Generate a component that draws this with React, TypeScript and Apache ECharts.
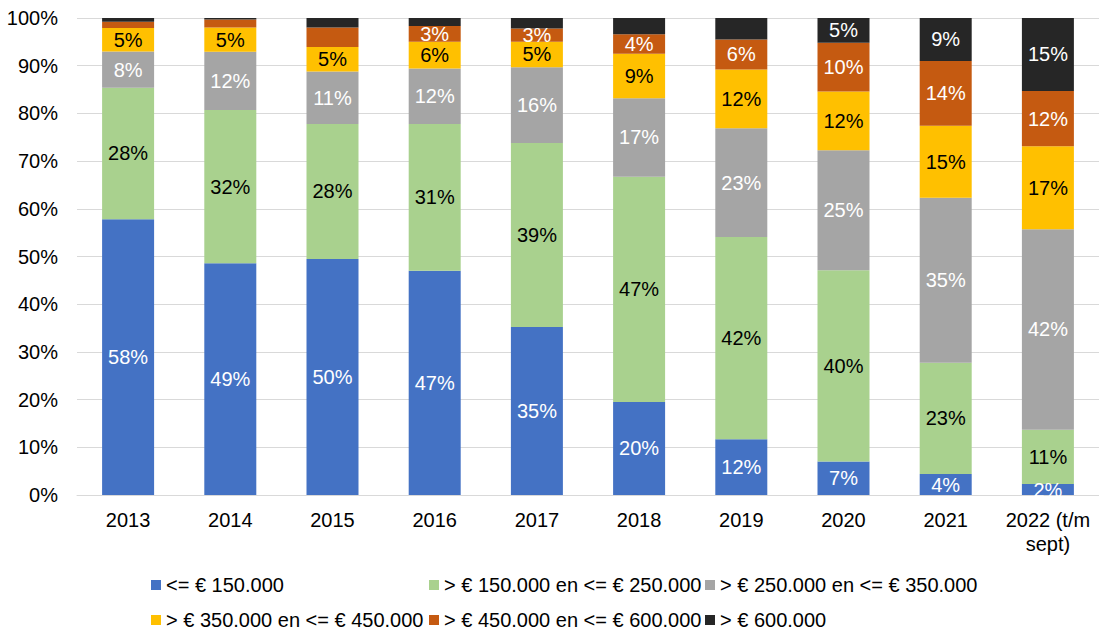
import React, { useEffect, useRef } from "react";
import * as echarts from "echarts";

const categories = ["2013", "2014", "2015", "2016", "2017", "2018", "2019", "2020", "2021", "2022 (t/m\nsept)"];

const seriesNames = [
  "<= € 150.000",
  "> € 150.000 en <= € 250.000",
  "> € 250.000 en <= € 350.000",
  "> € 350.000 en <= € 450.000",
  "> € 450.000 en <= € 600.000",
  "> € 600.000",
];

const upTo150 = [57.8, 48.6, 49.5, 47.0, 35.2, 19.5, 11.7, 7.0, 4.4, 2.3];
const from150to250 = [27.6, 32.1, 28.3, 30.8, 38.6, 47.2, 42.4, 40.1, 23.3, 11.4];
const from250to350 = [7.6, 12.2, 11.0, 11.6, 15.9, 16.5, 22.8, 25.2, 34.6, 42.0];
const from350to450 = [4.9, 5.1, 5.1, 5.6, 5.3, 9.3, 12.3, 12.3, 15.1, 17.4];
const from450to600 = [1.3, 1.7, 4.1, 3.3, 2.8, 4.1, 6.3, 10.2, 13.6, 11.6];
const above600 = [0.8, 0.3, 2.0, 1.7, 2.2, 3.4, 4.5, 5.2, 9.0, 15.3];

const yTicks = { min: 0, max: 100, interval: 10 };

// category indexes whose segment carries no data label in the reference
const unlabeledOrange = [0, 1, 2];
const unlabeledBlack = [0, 1, 2, 3, 4, 5, 6];

const colors = ["#4472C4", "#A9D18E", "#A5A5A5", "#FFC000", "#C55A11", "#262626"];
const labelColors = ["#ffffff", "#000000", "#ffffff", "#000000", "#ffffff", "#ffffff"];

const FONT = "'Liberation Sans', Arial, sans-serif";

export default function App() {
  const ref = useRef<HTMLDivElement>(null);

  useEffect(() => {
    document.body.style.margin = "0";
    const chart = echarts.init(ref.current!, null, { renderer: "svg" });
    const values = [upTo150, from150to250, from250to350, from350to450, from450to600, above600];
    const hidden: number[][] = [[], [], [], [], unlabeledOrange, unlabeledBlack];

    const series = values.map((vals, si) => ({
      name: seriesNames[si],
      type: "bar",
      stack: "total",
      barWidth: 52,
      itemStyle: { color: colors[si] },
      label: {
        show: true,
        position: "inside",
        color: labelColors[si],
        fontFamily: FONT,
        fontSize: 20,
        formatter: (p: any) => Math.round(p.value) + "%",
      },
      emphasis: { disabled: true },
      data: vals.map((v, i) =>
        hidden[si].includes(i) ? { value: v, label: { show: false } } : v
      ),
    }));

    const legendBase = {
      orient: "vertical",
      top: 575,
      itemWidth: 10,
      itemHeight: 10,
      itemGap: 15,
      padding: 0,
      icon: "rect",
      selectedMode: false,
      textStyle: { fontFamily: FONT, fontSize: 20, color: "#000", lineHeight: 20 },
    };

    chart.setOption({
      animation: false,
      color: colors,
      textStyle: { fontFamily: FONT },
      grid: { left: 77, right: -6, top: 18, bottom: 135, containLabel: false },
      xAxis: {
        type: "category",
        data: categories,
        axisLine: { show: true, lineStyle: { color: "#D9D9D9" } },
        axisTick: { show: false },
        axisLabel: {
          color: "#000",
          fontFamily: FONT,
          fontSize: 20,
          margin: 13,
          lineHeight: 24,
          interval: 0,
        },
      },
      yAxis: {
        type: "value",
        min: yTicks.min,
        max: yTicks.max,
        interval: yTicks.interval,
        axisLine: { show: false },
        axisTick: { show: false },
        splitLine: { lineStyle: { color: "#D9D9D9", width: 1 } },
        axisLabel: {
          formatter: "{value}%",
          color: "#000",
          fontFamily: FONT,
          fontSize: 20,
          margin: 19,
        },
      },
      legend: [
        { ...legendBase, left: 151, data: [seriesNames[0], seriesNames[3]] },
        { ...legendBase, left: 429, data: [seriesNames[1], seriesNames[4]] },
        { ...legendBase, left: 705, data: [seriesNames[2], seriesNames[5]] },
      ],
      series,
    });
    return () => chart.dispose();
  }, []);

  return (
    <div
      ref={ref}
      style={{ position: "absolute", left: 0, top: 0, width: 1099, height: 630, background: "#fff" }}
    />
  );
}
